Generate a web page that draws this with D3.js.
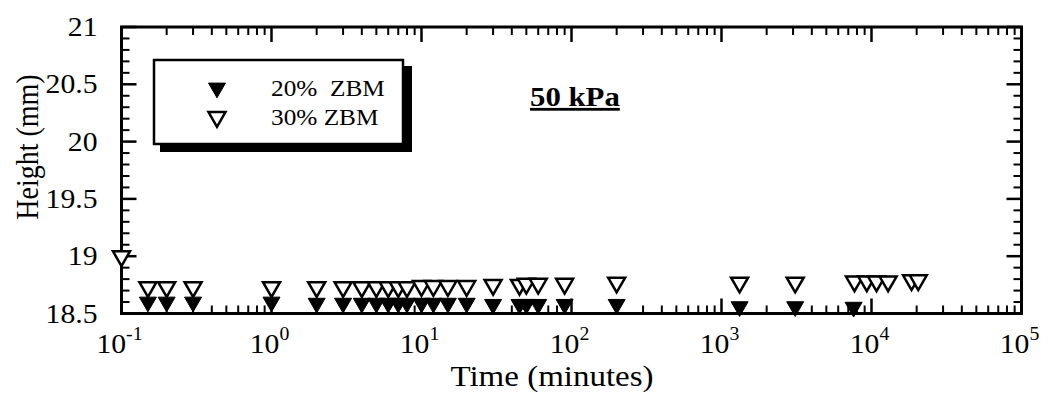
<!DOCTYPE html>
<html>
<head>
<meta charset="utf-8">
<script src="https://cdn.jsdelivr.net/npm/d3@7"></script>
<style>
  html, body { margin: 0; padding: 0; background: #fff; }
  svg { display: block; }
  text { font-family: "Liberation Serif", "Times New Roman", serif; fill: #000; }
</style>
</head>
<body>
<svg id="chart" width="1049" height="399"></svg>
<script>
// Consolidation readings at 50 kPa: specimen height (mm) versus elapsed time (minutes)
const time20 = [0.15, 0.2, 0.3, 1, 2, 3, 4, 5, 6, 7, 8, 10, 12, 15, 20, 30, 45, 50, 60, 90, 200, 1320, 3100, 7600];
const height20 = [18.60, 18.60, 18.60, 18.60, 18.59, 18.59, 18.59, 18.59, 18.59, 18.59, 18.59, 18.59, 18.59, 18.59, 18.59, 18.58, 18.58, 18.58, 18.58, 18.58, 18.58, 18.56, 18.56, 18.555];

const time30 = [0.1, 0.15, 0.2, 0.3, 1, 2, 3, 4, 5, 6, 7, 8, 10, 12, 15, 20, 30, 45, 50, 60, 90, 200, 1320, 3100, 7700, 9300, 10800, 12900, 18500, 20500];
const height30 = [19.00, 18.73, 18.73, 18.73, 18.73, 18.73, 18.73, 18.73, 18.73, 18.73, 18.73, 18.73, 18.74, 18.74, 18.74, 18.74, 18.75, 18.75, 18.76, 18.76, 18.76, 18.77, 18.77, 18.77, 18.78, 18.78, 18.78, 18.78, 18.79, 18.79];

const xDomain = [0.1, 1e5];
const yDomain = [18.5, 21];
const xMajorExps = [-1, 0, 1, 2, 3, 4, 5];
const yMajorTicks = [18.5, 19, 19.5, 20, 20.5, 21];

const legendLabels = ["20%  ZBM", "30% ZBM"];
const xTitle = "Time (minutes)";
const yTitle = "Height (mm)";
const panelTitle = "50 kPa";

const svg = d3.select("#chart");
const plot = { left: 121.5, right: 1021.5, top: 27, bottom: 313.5 };
const widen = 1.1; // text is set slightly wide

const x = d3.scaleLog().domain(xDomain).range([plot.left, plot.right]);
const y = d3.scaleLinear().domain(yDomain).range([plot.bottom, plot.top]);

// ---- ticks (inward, mirrored on all four sides) ----
const ticks = svg.append("g").attr("stroke", "#000");
const majorLen = 15, minorLen = 8;

const xMinor = [];
for (let e = -1; e < 5; e++) for (let m = 2; m <= 9; m++) xMinor.push(m * Math.pow(10, e));
const xMajor = xMajorExps.map(e => Math.pow(10, e));

function xTick(v, len, w) {
  ticks.append("line").attr("x1", x(v)).attr("x2", x(v))
    .attr("y1", plot.bottom).attr("y2", plot.bottom - len).attr("stroke-width", w);
  ticks.append("line").attr("x1", x(v)).attr("x2", x(v))
    .attr("y1", plot.top).attr("y2", plot.top + len).attr("stroke-width", w);
}
xMinor.forEach(v => xTick(v, minorLen, 2));
xMajor.forEach(v => xTick(v, majorLen, 2.5));

const yMinor = d3.range(0, 26).map(i => 18.5 + i * 0.1).filter(v => Math.abs((v * 2) - Math.round(v * 2)) > 1e-6);
function yTick(v, len, w) {
  ticks.append("line").attr("y1", y(v)).attr("y2", y(v))
    .attr("x1", plot.left).attr("x2", plot.left + len).attr("stroke-width", w);
  ticks.append("line").attr("y1", y(v)).attr("y2", y(v))
    .attr("x1", plot.right).attr("x2", plot.right - len).attr("stroke-width", w);
}
yMinor.forEach(v => yTick(v, minorLen, 2));
yMajorTicks.forEach(v => yTick(v, majorLen, 2.5));

// ---- frame ----
svg.append("rect")
  .attr("x", plot.left).attr("y", plot.top)
  .attr("width", plot.right - plot.left).attr("height", plot.bottom - plot.top)
  .attr("fill", "none").attr("stroke", "#000").attr("stroke-width", 3);

// ---- tick labels ----
svg.append("g").selectAll("text").data(yMajorTicks).join("text")
  .attr("transform", d => `translate(${plot.left - 24},${y(d) + 9}) scale(${widen},1)`)
  .attr("text-anchor", "end").attr("font-size", 27)
  .text(d => d3.format("")(d));

const xl = svg.append("g").selectAll("text").data(xMajorExps).join("text")
  .attr("transform", d => `translate(${x(Math.pow(10, d)) - 2},353) scale(${widen},1)`)
  .attr("text-anchor", "middle").attr("font-size", 27);
xl.append("tspan").text("10");
xl.append("tspan").attr("font-size", 18).attr("dy", -13).text(d => d < 0 ? "-" + Math.abs(d) : String(d));

// ---- axis titles ----
svg.append("text").attr("transform", `translate(552,386) scale(${widen},1)`)
  .attr("text-anchor", "middle").attr("font-size", 30).text(xTitle);
svg.append("text").attr("transform", `translate(38,147) rotate(-90) scale(1,${widen})`)
  .attr("text-anchor", "middle").attr("font-size", 28).text(yTitle);

// ---- markers ----
const tri = d3.symbol().type(d3.symbolTriangle).size(125);
function drawSeries(tArr, hArr, filled) {
  svg.append("g").selectAll("path").data(tArr.map((t, i) => [t, hArr[i]])).join("path")
    .attr("d", tri)
    .attr("transform", d => `translate(${x(d[0])},${y(d[1])}) rotate(180)`)
    .attr("fill", filled ? "#000" : "#fff")
    .attr("stroke", "#000")
    .attr("stroke-width", filled ? 1 : 2.5)
    .attr("stroke-linejoin", "miter");
}
drawSeries(time20, height20, true);
drawSeries(time30, height30, false);

// ---- legend ----
const lg = svg.append("g");
lg.append("rect").attr("x", 160).attr("y", 66).attr("width", 252).attr("height", 86).attr("fill", "#000");
lg.append("rect").attr("x", 154).attr("y", 60).attr("width", 249).attr("height", 84)
  .attr("fill", "#fff").attr("stroke", "#000").attr("stroke-width", 2.5);
const legendRows = [{ label: legendLabels[0], filled: true, cy: 88 }, { label: legendLabels[1], filled: false, cy: 117 }];
legendRows.forEach(r => {
  lg.append("path").attr("d", tri)
    .attr("transform", `translate(217,${r.cy}) rotate(180)`)
    .attr("fill", r.filled ? "#000" : "#fff").attr("stroke", "#000")
    .attr("stroke-width", r.filled ? 1 : 2.5);
  lg.append("text").attr("transform", `translate(271,${r.cy + 8}) scale(${widen},1)`)
    .attr("font-size", 23).style("white-space", "pre").text(r.label);
});

// ---- panel title ----
svg.append("text").attr("transform", `translate(530,106) scale(${widen},1)`)
  .attr("font-size", 28).attr("font-weight", "bold")
  .attr("text-decoration", "underline").text(panelTitle);
</script>
</body>
</html>
